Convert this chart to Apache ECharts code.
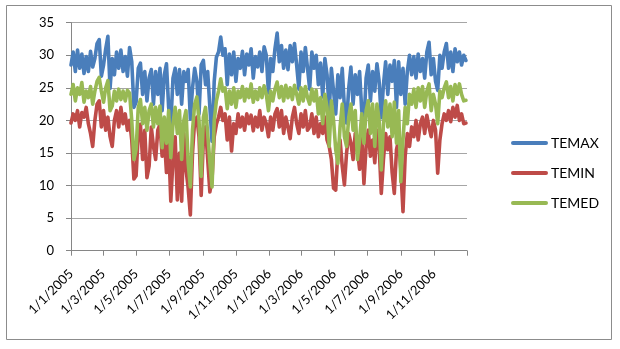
<!DOCTYPE html>
<html>
<head>
<meta charset="utf-8">
<script src="https://cdn.jsdelivr.net/npm/echarts@6/dist/echarts.min.js"></script>
<style>
html,body{margin:0;padding:0;background:#fff;}
#chart{width:620px;height:349px;}
</style>
</head>
<body>
<div id="chart"></div>
<script>
// Sampled every 4 days starting 1/1/2005
const startYear = 2005;
const sampleStepDays = 4;
const seriesNames = ['TEMAX', 'TEMIN', 'TEMED'];
const yTicks = [0, 5, 10, 15, 20, 25, 30, 35];

const temax = [
28.5,30.5,27.5,30.8,28.0,30.2,27.2,29.8,27.5,30.6,
28.2,29.5,31.8,32.4,26.8,28.5,31.0,32.9,24.9,29.5,
27.0,30.5,28.0,30.8,27.5,29.8,26.8,31.2,29.0,22.0,
22.8,28.0,28.8,24.0,27.5,23.0,26.5,27.8,22.5,27.5,
24.0,28.0,21.5,27.0,28.7,22.0,19.5,26.5,28.0,24.0,
27.8,22.5,27.5,26.0,27.8,20.2,25.0,28.0,26.0,21.0,
28.5,29.2,25.5,27.5,22.0,16.8,26.0,29.7,30.5,32.8,
30.0,31.0,25.5,30.2,27.0,30.5,26.0,29.5,28.0,30.6,
27.0,30.2,28.5,31.0,26.5,29.8,28.2,30.5,27.5,31.3,
30.0,24.2,29.5,27.5,31.0,33.4,29.0,31.5,28.0,30.8,
27.8,31.5,29.0,31.8,28.5,24.8,30.5,27.5,31.2,28.0,
24.8,30.5,28.0,30.0,25.5,28.8,23.6,29.5,27.0,21.5,
28.0,24.5,21.0,27.0,23.5,28.0,22.0,19.6,25.0,28.2,
22.5,27.0,24.0,27.5,21.5,19.6,26.5,28.5,23.0,27.5,
24.5,28.7,26.0,20.4,25.5,29.0,24.0,28.5,26.0,29.2,
22.0,29.0,24.0,28.0,22.5,27.5,30.0,27.0,29.8,26.5,
30.2,27.5,29.5,26.5,30.5,32.0,27.0,29.5,26.0,24.6,
30.0,28.0,30.5,31.8,28.0,30.5,27.5,31.0,29.0,30.5,
28.5,30.0,29.2
];

const temin = [
19.6,21.0,20.0,21.5,19.0,21.2,20.5,22.0,19.5,18.0,
16.0,20.0,22.5,23.0,19.0,21.5,18.5,20.5,17.5,16.0,
20.0,21.5,19.0,22.0,19.5,21.0,18.5,20.0,17.0,11.0,
11.5,18.0,19.4,14.0,18.5,11.2,13.0,19.0,16.0,14.0,
18.5,19.4,14.5,17.5,12.0,16.5,7.6,14.0,17.5,7.8,
15.0,7.6,18.0,12.5,9.6,5.5,15.0,20.0,20.5,17.5,
8.5,17.0,19.0,14.0,9.0,11.0,17.5,19.4,20.5,22.0,
20.0,21.0,17.0,20.5,15.3,19.5,18.0,21.0,19.0,20.5,
18.5,21.0,19.5,20.8,18.4,20.5,19.0,21.5,18.5,20.5,
19.5,17.5,20.5,18.5,21.0,21.8,19.0,21.5,18.0,20.5,
19.0,17.2,20.5,22.0,19.5,18.0,21.0,19.0,21.5,18.5,
19.0,21.0,18.0,20.5,17.5,19.5,18.0,20.5,17.0,16.0,
14.0,9.6,9.3,15.5,17.0,13.0,10.1,15.0,18.0,16.5,
14.0,18.0,15.5,12.5,17.5,10.3,16.0,18.5,14.5,17.0,
13.5,18.5,16.0,8.8,14.0,18.0,15.5,17.5,12.0,8.8,
15.5,17.0,12.5,6.0,14.5,18.0,16.0,19.0,17.5,20.0,
17.0,19.5,20.5,18.0,20.8,19.0,17.5,20.0,18.5,11.9,
17.0,19.5,21.0,20.0,21.5,19.8,22.0,20.5,22.3,20.0,
21.0,19.5,19.6
];

const temed = [
24.0,25.5,23.0,25.0,24.0,25.8,22.8,24.5,23.5,25.2,
22.5,24.5,26.0,26.6,24.5,22.8,25.0,26.1,21.5,22.2,
24.5,23.0,24.8,23.2,24.5,23.0,24.6,24.2,20.0,14.0,
15.5,22.0,23.2,19.5,22.0,18.5,21.5,22.5,19.0,22.0,
19.5,22.2,15.8,20.5,16.5,21.5,14.3,19.5,22.0,18.0,
21.5,14.0,20.0,21.5,13.5,9.8,18.5,22.5,23.6,20.0,
11.4,20.5,22.0,18.0,13.5,9.8,20.0,23.0,24.5,26.4,
24.5,25.0,21.8,24.5,22.5,25.0,22.0,24.5,23.5,25.2,
23.0,24.8,23.5,25.6,22.8,24.5,23.2,25.0,23.5,25.3,
24.0,21.5,24.5,23.0,24.8,25.9,23.5,25.2,23.0,25.4,
23.5,25.0,23.2,25.4,24.0,22.5,25.0,23.0,25.2,23.5,
22.5,24.8,23.0,24.6,21.0,23.5,19.5,24.0,22.0,16.0,
23.0,20.0,15.5,13.4,19.0,22.5,17.5,16.0,20.5,22.5,
18.5,21.5,14.0,17.0,21.0,16.5,21.5,23.0,18.0,22.5,
16.0,22.5,20.0,12.4,19.5,23.0,19.0,22.5,17.5,22.8,
16.5,21.5,10.6,17.0,22.0,19.5,24.0,22.5,24.8,22.0,
25.0,23.0,25.2,22.0,24.5,25.6,21.5,24.0,22.5,19.5,
24.5,23.5,25.0,25.9,23.5,25.2,23.0,25.5,24.0,25.6,
24.0,23.0,23.1
];

const colors = ['#4A7EBB', '#BE4B48', '#98B954'];

// Daily category axis, 1/1/2005 .. 1/1/2007
const DAY = 86400000;
const t0 = Date.UTC(startYear, 0, 1);
const t1 = Date.UTC(startYear + 2, 0, 1);
const dayCats = [];
for (let t = t0; t <= t1; t += DAY) {
  const d = new Date(t);
  dayCats.push(d.getUTCDate() + '/' + (d.getUTCMonth() + 1) + '/' + d.getUTCFullYear());
}
function toPairs(arr) {
  return arr.map((v, i) => [dayCats[i * sampleStepDays], v]);
}
function isTickCat(value) {
  const p = value.split('/');
  return p[0] === '1' && (parseInt(p[1], 10) % 2 === 1);
}
const lastCat = dayCats[dayCats.length - 1];

const font = 'Lato, Carlito, "Liberation Sans", sans-serif';
const lineIcon = 'path://M2,0 L35,0 A2,2 0 0 1 35,4 L2,4 A2,2 0 0 1 2,0 Z';

const chart = echarts.init(document.getElementById('chart'), null, {renderer: 'canvas'});
const data = [temax, temin, temed];
chart.setOption({
  animation: false,
  backgroundColor: '#ffffff',
  color: colors,
  graphic: [{
    type: 'rect',
    shape: {x: 6.5, y: 5.5, width: 605, height: 334},
    style: {fill: 'none', stroke: '#8c8c8c', lineWidth: 1},
    z: -1
  }],
  grid: {left: 71, right: 153, top: 22.7, bottom: 98.3, containLabel: false},
  legend: {
    orient: 'vertical',
    left: 506,
    top: 131,
    itemWidth: 37,
    itemHeight: 4,
    itemGap: 16,
    icon: lineIcon,
    data: seriesNames,
    textStyle: {fontFamily: font, fontSize: 14, lineHeight: 14, color: '#000', padding: [0, 0, 0, -2]}
  },
  xAxis: {
    type: 'category',
    data: dayCats,
    boundaryGap: false,
    axisLine: {lineStyle: {color: '#868686', width: 1}},
    axisTick: {
      show: true, length: 5,
      interval: (idx, val) => isTickCat(val),
      lineStyle: {color: '#868686'}
    },
    axisLabel: {
      interval: (idx, val) => isTickCat(val) && val !== lastCat,
      rotate: 45,
      margin: 21,
      fontFamily: font,
      fontSize: 13,
      color: '#000'
    },
    splitLine: {show: false}
  },
  yAxis: {
    type: 'value',
    min: yTicks[0],
    max: yTicks[yTicks.length - 1],
    interval: yTicks[1] - yTicks[0],
    axisLine: {show: true, lineStyle: {color: '#868686', width: 1}},
    axisTick: {show: true, length: 5, lineStyle: {color: '#868686'}},
    axisLabel: {margin: 17, fontFamily: font, fontSize: 13, color: '#000'},
    splitLine: {show: true, lineStyle: {color: '#a6a6a6', width: 1}}
  },
  series: seriesNames.map((name, k) => ({
    name: name,
    type: 'line',
    data: toPairs(data[k]),
    symbol: 'none',
    showSymbol: false,
    lineStyle: {width: 3.6, color: colors[k], cap: 'round', join: 'round'},
    itemStyle: {color: colors[k]},
    z: k === 0 ? 2 : (k === 1 ? 3 : 4)
  }))
});
</script>
</body>
</html>
